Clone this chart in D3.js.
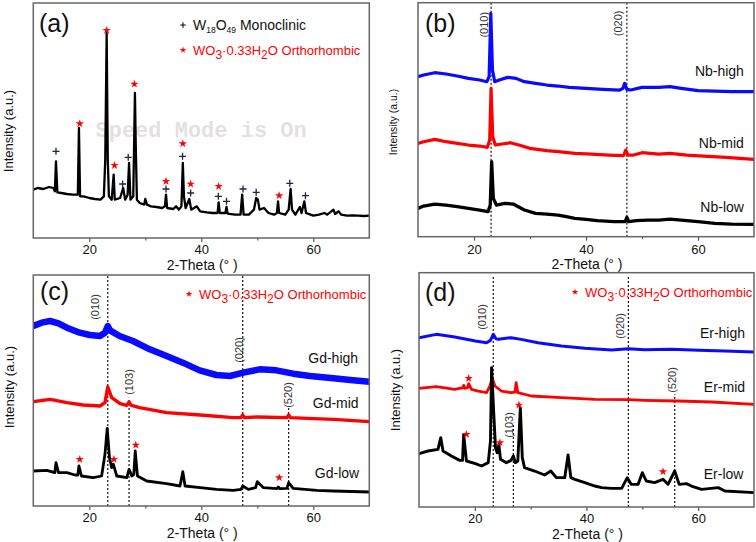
<!DOCTYPE html>
<html><head><meta charset="utf-8">
<script src="https://cdn.jsdelivr.net/npm/d3@7"></script>
<style>
body{margin:0;background:#fff;}
svg{display:block;font-family:"Liberation Sans",Arial,sans-serif;}
</style>
</head><body>
<svg id="chart" width="756" height="542"></svg>
<script>
// ---------------- DATA ----------------
const X_DOMAIN = [10, 70];
const xTicks = [20, 40, 60];
const xMinorTicks = [30, 50];

// (a) W sample, [2theta, intensity a.u.]
const aPattern = [[10.0,145],[10.8,150],[11.8,147],[12.8,153],[13.6,150],[13.85,140],[14.05,230],[14.3,137],[15,135],[16,132],[17,130],[17.95,130],[18.15,330],[18.35,125],[19,125],[20,120],[21,117],[22,115],[22.6,125],[22.85,235],[23.1,615],[23.3,235],[23.5,125],[24.0,115],[24.35,190],[24.55,115],[25.5,120],[26.05,150],[26.4,115],[26.85,130],[27.1,225],[27.35,115],[27.85,125],[28.15,435],[28.3,275],[28.5,115],[29,105],[29.8,100],[30.0,117],[30.3,100],[31,95],[32,93],[33,90],[33.5,95],[33.7,130],[33.9,90],[35,87],[35.5,95],[36.0,85],[36.45,95],[36.7,225],[36.9,125],[37.2,90],[37.85,117],[38.2,85],[39.2,95],[39.8,80],[41,77],[42,75],[42.9,75],[43.1,107],[43.3,75],[44.3,75],[44.5,93],[44.7,73],[46,70],[47.0,70],[47.3,130],[47.55,70],[48.5,70],[49.4,85],[49.8,120],[50.1,115],[50.4,85],[51.2,90],[52,75],[53,70],[53.5,75],[53.7,110],[53.9,75],[55.0,70],[55.6,85],[55.95,147],[56.2,85],[56.8,70],[57.6,93],[57.9,75],[58.4,110],[58.7,75],[59.5,70],[60,67],[61,70],[62,75],[62.5,70],[63.6,85],[63.9,72],[64.5,80],[65,70],[66,67],[67,68],[68,67],[69,66],[70,67]];
const aMonoclinic = [[14.05,260],[25.95,162],[26.95,242],[33.7,147],[36.65,245],[38.1,135],[43.05,125],[44.5,110],[47.45,147],[49.8,137],[55.8,164],[58.6,127]];
const aOrthorhombic = [[18.3,343],[23.1,623],[24.5,218],[28.05,462],[33.7,170],[36.7,283],[38.1,162],[43.1,155],[53.9,127]];

// (b) Nb
const bNames = ["Nb-high","Nb-mid","Nb-low"];
const bHigh = [[10,480],[11,485],[13,492],[15,488],[17,482],[19,475],[21,470],[22.3,465],[22.7,480],[23.0,670],[23.3,500],[23.7,465],[24.5,470],[26,478],[27.5,475],[29,465],[31,460],[33,455],[35,452],[37,448],[40,445],[43,442],[46,440],[46.6,445],[46.9,460],[47.3,442],[48,440],[50,448],[53,448],[55,450],[57,445],[60,438],[63,437],[66,435],[70,435]];
const bMid = [[10,280],[11,285],[13,292],[15,285],[17,280],[19,275],[21,272],[22.4,268],[22.8,290],[23.05,445],[23.35,300],[23.8,275],[25,278],[26.5,282],[28,275],[30,265],[33,258],[35,255],[38,250],[41,248],[44,245],[46.7,243],[47.1,260],[47.5,245],[48.5,245],[50,252],[53,248],[55,250],[58,245],[61,242],[65,238],[70,232]];
const bLow = [[10,85],[11,92],[13,98],[15,95],[17,90],[19,85],[21,80],[22.5,75],[22.9,95],[23.15,225],[23.45,115],[24,95],[25.5,100],[27,98],[29,80],[31,70],[33,68],[35,65],[36.5,60],[38,55],[40,52],[42,48],[45,45],[47.0,45],[47.3,58],[47.6,45],[49,48],[51,50],[53,50],[55,53],[57,50],[60,45],[63,40],[66,38],[70,37]];
const bPlanes = ["(010)","(020)"];
const bPlanePos = [23.05, 47.3];

// (c) Gd
const cNames = ["Gd-high","Gd-mid","Gd-low"];
const cHigh = [[10,540],[11.5,550],[13,555],[14.5,548],[16,535],[18.3,520],[20.1,513],[21.9,510],[22.8,520],[23.3,540],[23.7,527],[25.4,510],[27.8,495],[30.8,470],[33.8,450],[36.7,430],[39.7,407],[42.7,393],[45.1,390],[47.5,400],[50.4,410],[53.4,407],[56.4,397],[59.4,390],[63.6,383],[66.6,378],[70,373]];
const cMid = [[10,313],[13,320],[16,310],[18.9,303],[21.9,300],[22.8,310],[23.3,357],[24,325],[25.5,307],[26.7,302],[27.1,312],[27.5,302],[29.0,295],[33.8,280],[39.8,273],[45.7,265],[47.1,265],[47.4,273],[47.7,265],[50,267],[55.3,265],[55.6,273],[55.9,265],[60,262],[63.6,260],[70,253]];
const cLow = [[10,105],[12.4,107],[13.85,100],[14.05,130],[14.5,100],[16,100],[17.45,93],[17.95,93],[18.15,120],[18.6,90],[20.7,85],[22.2,90],[22.8,155],[23.2,233],[23.6,145],[24.0,115],[24.3,125],[24.9,90],[26.7,85],[27.1,110],[27.6,90],[27.95,95],[28.2,165],[28.6,90],[30.25,75],[33.8,67],[36.2,60],[36.7,103],[37.1,60],[39.8,55],[42.75,50],[45.7,47],[47.1,50],[47.4,60],[48.4,50],[49.7,55],[50.0,73],[51.1,55],[53.5,52],[53.75,57],[54.0,52],[55.3,53],[55.6,70],[56.4,53],[60.6,47],[63.6,45],[70,42]];
const cOrthorhombic = [[18.3,140],[24.4,140],[28.3,183],[53.9,85]];
const cPlanes = ["(010)","(103)","(020)","(520)"];
const cPlanePos = [23.3, 27.1, 47.4, 55.6];

// (d) Er
const dNames = ["Er-high","Er-mid","Er-low"];
const dHigh = [[10,508],[13.1,518],[16.4,510],[20.1,498],[22.1,493],[22.8,500],[23.3,518],[23.8,505],[24.2,503],[26.5,508],[28.3,503],[31.3,493],[35.5,483],[39.7,476],[44.5,471],[47.5,475],[50.4,472],[55.2,473],[60.1,470],[64.8,468],[70,465]];
const dMid = [[10,356],[13.1,361],[16.4,353],[17.9,358],[18.0,365],[18.2,356],[18.7,358],[18.9,370],[19.4,353],[20.6,348],[22.1,343],[22.7,363],[23.1,386],[23.6,363],[24.75,348],[26.5,343],[27.2,345],[27.4,373],[27.7,343],[30.1,333],[35.5,328],[41.5,323],[47.5,322],[50.4,320],[56.4,318],[62.4,315],[70,308]];
const dLow = [[10,160],[11.6,168],[13.4,173],[13.9,208],[14.3,168],[15.8,153],[17.3,140],[17.8,140],[18.0,218],[18.5,138],[20.1,130],[21.2,123],[22.4,133],[22.8,198],[23.0,418],[23.4,278],[23.7,178],[24.0,163],[24.3,188],[24.6,143],[25.65,133],[26.5,140],[26.9,153],[27.25,133],[27.7,138],[28.15,298],[28.5,148],[28.9,118],[30.7,108],[32.5,96],[33.6,108],[34.6,88],[36.1,88],[36.7,156],[37.2,88],[37.9,83],[39.7,73],[41.5,63],[42.7,58],[44.5,56],[46.3,56],[47.3,88],[48.0,68],[49.25,68],[50.0,103],[50.7,78],[52.2,73],[53.7,83],[54.6,68],[55.8,108],[56.6,68],[57.9,70],[58.8,63],[60.6,53],[63.6,58],[64.8,48],[70,43]];
const dOrthorhombic = [[18.9,386],[18.5,218],[24.5,193],[27.9,306],[53.7,106]];
const dPlanes = ["(010)","(103)","(020)","(520)"];
const dPlanePos = [23.3, 26.9, 47.5, 55.8];

// ---------------- LAYOUT ----------------
const BLUE = "#0a0aff", RED = "#ff0000", BLACK = "#000000";
const panels = [
  {id:"a", x0:33.3, x1:369.3, y0:3, y1:238, vmax:705,
   series:[{data:aPattern, color:BLACK, w:2.3}],
   plus:aMonoclinic, star:aOrthorhombic,
   tickDy:16, titleDy:31.5, ylab:{x:8.5, y:131, size:13}, tag:{x:39, y:32},
   watermark:{text:"Speed Mode is On", x:95.5, y:137},
   legendMono:{x:183, y:25}, legendOrtho:{x:183, y:50}},
  {id:"b", x0:418, x1:754, y0:2.7, y1:236.7, vmax:702,
   series:[{data:bHigh, color:BLUE, w:3.2},{data:bMid, color:RED, w:3.2},{data:bLow, color:BLACK, w:3.3}],
   names:bNames, nameAnchors:[[68.2,482],[68.2,266],[68.2,74]],
   planes:bPlanes, planePos:bPlanePos, dashTop:[702,702], planeAnchors:[[21.8,636],[45.8,640]],
   tickDy:17, titleDy:32.5, ylab:{x:393, y:122, size:10.5}, tag:{x:425, y:32}},
  {id:"c", x0:33.3, x1:369.3, y0:275, y1:506, vmax:693,
   series:[{data:cHigh, color:BLUE, w:6.5},{data:cMid, color:RED, w:3.4},{data:cLow, color:BLACK, w:2.8}],
   star:cOrthorhombic,
   names:cNames, nameAnchors:[[68.0,429],[68.1,294],[68.2,84]],
   planes:cPlanes, planePos:cPlanePos, dashTop:[693,325,693,295], planeAnchors:[[21.0,597],[27.15,372],[46.7,468],[55.5,333]],
   tickDy:16, titleDy:31.5, ylab:{x:9, y:387, size:13}, tag:{x:40, y:300},
   legendOrtho:{x:189, y:294}},
  {id:"d", x0:419, x1:754, y0:272.7, y1:507, vmax:703,
   series:[{data:dHigh, color:BLUE, w:3},{data:dMid, color:RED, w:2.8},{data:dLow, color:BLACK, w:2.9}],
   star:dOrthorhombic,
   names:dNames, nameAnchors:[[68.4,508],[68.4,346],[68.1,83]],
   planes:dPlanes, planePos:dPlanePos, dashTop:[693,253,693,338], planeAnchors:[[21.3,570],[26.1,246],[46.0,543],[55.3,381]],
   tickDy:16, titleDy:31.5, ylab:{x:395.5, y:390, size:13}, tag:{x:425, y:301},
   legendOrtho:{x:575, y:292}}
];

const svg = d3.select("#chart");
const defs = svg.append("defs");
const starSym = d3.symbol().type(d3.symbolStar);
const plusSym = d3.symbol().type(d3.symbolPlus);

function orthoLegend(g, pos) {
  g.append("path").attr("d", starSym.size(14)()).attr("fill", RED)
    .attr("transform", `translate(${pos.x},${pos.y})`);
  const t = g.append("text").attr("x", pos.x + 10).attr("y", pos.y + 5)
    .attr("fill", RED).attr("font-size", 13);
  t.append("tspan").text("WO");
  t.append("tspan").attr("font-size", 12).attr("dy", 4).text("3");
  t.append("tspan").attr("dy", -4).text("·0.33H");
  t.append("tspan").attr("font-size", 12).attr("dy", 4).text("2");
  t.append("tspan").attr("dy", -4).text("O Orthorhombic");
}

function drawPanel(p) {
  const g = svg.append("g").attr("class", "panel-" + p.id);
  const x = d3.scaleLinear().domain(X_DOMAIN).range([p.x0, p.x1]);
  const y = d3.scaleLinear().domain([0, p.vmax]).range([p.y1, p.y0]);
  const clipId = "clip-" + p.id;
  defs.append("clipPath").attr("id", clipId).append("rect")
    .attr("x", p.x0).attr("y", p.y0).attr("width", p.x1 - p.x0).attr("height", p.y1 - p.y0);
  const plot = g.append("g").attr("clip-path", `url(#${clipId})`);

  if (p.watermark) {
    plot.append("text").attr("x", p.watermark.x).attr("y", p.watermark.y)
      .attr("font-family", "'Liberation Mono','DejaVu Sans Mono',monospace")
      .attr("font-size", 22).attr("font-weight", "bold").attr("fill", "#e6dfe1")
      .text(p.watermark.text);
  }

  // dashed reference lines
  (p.planePos || []).forEach((px, i) => {
    plot.append("line").attr("x1", x(px)).attr("x2", x(px))
      .attr("y1", y(0)).attr("y2", y(p.dashTop[i]))
      .attr("stroke", "#111").attr("stroke-width", 1.2).attr("stroke-dasharray", "2,2");
  });

  const line = d3.line().x(d => x(d[0])).y(d => y(d[1]));
  p.series.forEach(s => {
    plot.append("path").datum(s.data).attr("d", line)
      .attr("fill", "none").attr("stroke", s.color).attr("stroke-width", s.w)
      .attr("stroke-linejoin", "round").attr("stroke-linecap", "round");
  });

  (p.plus || []).forEach(d => {
    g.append("path").attr("d", plusSym.size(18)())
      .attr("transform", `translate(${x(d[0])},${y(d[1])})`)
      .attr("fill", "none").attr("stroke", "#1c2545").attr("stroke-width", 1.3);
  });
  (p.star || []).forEach(d => {
    g.append("path").attr("d", starSym.size(22)())
      .attr("transform", `translate(${x(d[0])},${y(d[1])})`)
      .attr("fill", RED);
  });

  // plane labels
  (p.planes || []).forEach((t, i) => {
    const a = p.planeAnchors[i];
    g.append("text").attr("transform", `translate(${x(a[0])},${y(a[1])}) rotate(-90)`)
      .attr("text-anchor", "middle").attr("dominant-baseline", "central")
      .attr("font-size", 11).attr("fill", "#333").text(t);
  });
  // sample names
  (p.names || []).forEach((t, i) => {
    const a = p.nameAnchors[i];
    g.append("text").attr("x", x(a[0])).attr("y", y(a[1]))
      .attr("text-anchor", "end").attr("font-size", 14).attr("fill", "#111").text(t);
  });

  // x axis
  const ax = g.append("g").attr("transform", `translate(0,${p.y1})`)
    .call(d3.axisBottom(x).tickValues(xTicks).tickSize(4).tickSizeOuter(0).tickFormat(d3.format("d")));
  ax.select(".domain").remove();
  ax.selectAll(".tick line").attr("stroke", "#555").attr("stroke-width", 1.2);
  ax.selectAll(".tick text").attr("y", p.tickDy).attr("dy", 0)
    .attr("font-size", 13).attr("font-family", "'Liberation Sans',Arial,sans-serif").attr("fill", "#111");
  const axm = g.append("g").attr("transform", `translate(0,${p.y1})`)
    .call(d3.axisBottom(x).tickValues(xMinorTicks).tickSize(2.5).tickSizeOuter(0).tickFormat(""));
  axm.select(".domain").remove();
  axm.selectAll(".tick line").attr("stroke", "#555").attr("stroke-width", 1.2);

  // frame
  g.append("rect").attr("x", p.x0).attr("y", p.y0)
    .attr("width", p.x1 - p.x0).attr("height", p.y1 - p.y0)
    .attr("fill", "none").attr("stroke", "#666").attr("stroke-width", 1.5);

  // titles
  g.append("text").attr("x", (p.x0 + p.x1) / 2 + 1).attr("y", p.y1 + p.titleDy)
    .attr("text-anchor", "middle").attr("font-size", 14).attr("fill", "#111").text("2-Theta (° )");
  g.append("text").attr("transform", `translate(${p.ylab.x},${p.ylab.y}) rotate(-90)`)
    .attr("text-anchor", "middle").attr("dominant-baseline", "central")
    .attr("font-size", p.ylab.size).attr("fill", "#111").text("Intensity (a.u.)");
  g.append("text").attr("x", p.tag.x).attr("y", p.tag.y)
    .attr("font-size", 25).attr("fill", "#111").text(`(${p.id})`);

  if (p.legendMono) {
    const m = p.legendMono;
    g.append("path").attr("d", plusSym.size(12)()).attr("fill", "none")
      .attr("stroke", "#111").attr("stroke-width", 1.1)
      .attr("transform", `translate(${m.x},${m.y})`);
    const t = g.append("text").attr("x", m.x + 10).attr("y", m.y + 5).attr("font-size", 14).attr("fill", "#111");
    t.append("tspan").text("W");
    t.append("tspan").attr("font-size", 8.5).attr("dy", 3).text("18");
    t.append("tspan").attr("dy", -3).text("O");
    t.append("tspan").attr("font-size", 8.5).attr("dy", 3).text("49");
    t.append("tspan").attr("dy", -3).text(" Monoclinic");
  }
  if (p.legendOrtho) orthoLegend(g, p.legendOrtho);
}

panels.forEach(drawPanel);
</script>
</body></html>
